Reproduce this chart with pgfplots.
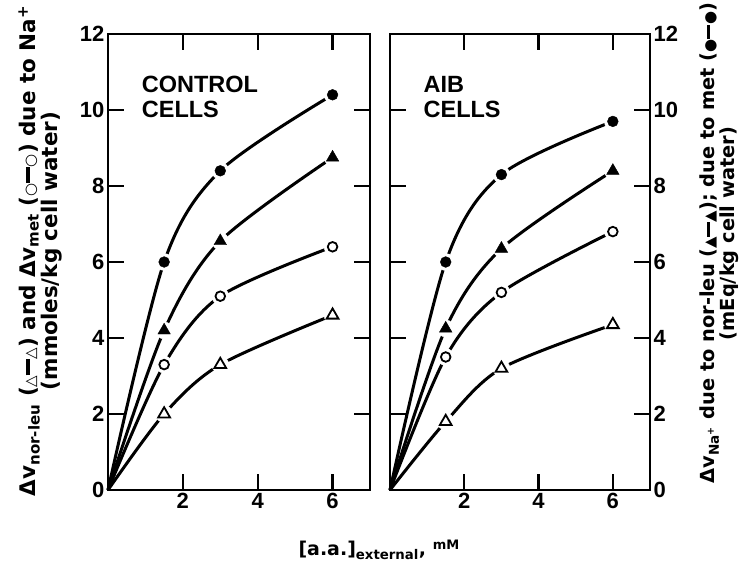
\documentclass[border=0pt]{standalone}
\usepackage{pgfplots}
\usepackage{pgfplotstable}
\pgfplotsset{compat=1.18}
\usepackage{fontspec}
\setmainfont{Liberation Sans}
\newfontfamily\dejavu{DejaVu Sans}
\newcommand\lnk{\rule[0.27em]{0.75em}{0.16em}}
\newcommand\sym[1]{{\fontsize{15}{15}\selectfont #1}}

\pgfplotstableread{
x fc ft oc ot
0 0 0 0 0
1.5 6.0 4.2 3.3 2.0
3 8.4 6.55 5.1 3.3
6 10.4 8.75 6.4 4.6
}\ctrl
\pgfplotstableread{
x fc ft oc ot
0 0 0 0 0
1.5 6.0 4.25 3.5 1.8
3 8.3 6.35 5.2 3.2
6 9.7 8.4 6.8 4.35
}\aib

\pgfplotsset{
  panel/.style={
    scale only axis, width=262pt, height=456pt,
    xmin=0, xmax=7, ymin=0, ymax=12,
    xtick={2,4,6}, ytick={0,2,...,12},
    axis line style={line width=2.5pt},
    major tick style={line width=2.2pt, black},
    major tick length=16pt,
    tick align=inside,
    tick pos=both,
    /pgf/number format/assume math mode=true,
    tick label style={font=\fontsize{22}{22}\selectfont\bfseries},
    clip=false,
  },
  curve/.style={black, line width=3pt, smooth, tension=0.5, no markers},
  halo/.style={only marks, white, mark=*, mark size=8.5pt, skip coords between index={0}{1}},
  fcm/.style={only marks, black, mark=*, mark size=5.4pt, skip coords between index={0}{1}},
  ocm/.style={only marks, black, mark=*, mark size=4.8pt, mark options={fill=white, line width=1.8pt}, skip coords between index={0}{1}},
  ftm/.style={only marks, black, mark=triangle*, mark size=7.2pt, skip coords between index={0}{1}},
  otm/.style={only marks, black, mark=triangle*, mark size=6.8pt, mark options={fill=white, line width=1.8pt}, skip coords between index={0}{1}},
}

\newcommand\series[1]{%
  \addplot[curve] table[x=x,y=fc]{#1};
  \addplot[curve] table[x=x,y=ft]{#1};
  \addplot[curve] table[x=x,y=oc]{#1};
  \addplot[curve] table[x=x,y=ot]{#1};
  \addplot[halo] table[x=x,y=fc]{#1};
  \addplot[halo] table[x=x,y=ft]{#1};
  \addplot[halo] table[x=x,y=oc]{#1};
  \addplot[halo] table[x=x,y=ot]{#1};
  \addplot[fcm] table[x=x,y=fc]{#1};
  \addplot[ftm] table[x=x,y=ft]{#1};
  \addplot[ocm] table[x=x,y=oc]{#1};
  \addplot[otm] table[x=x,y=ot]{#1};
}

\begin{document}
\begin{tikzpicture}
\useasboundingbox (-108pt,-81pt) rectangle (647pt,490pt);
\begin{axis}[panel, at={(0pt,0pt)}, anchor=south west,
  yticklabel pos=left,
  ylabel={Δv\textsubscript{nor-leu} (\sym{△}\lnk\sym{△}) and Δv\textsubscript{met} (\sym{○}\lnk\sym{○}) due to Na\textsuperscript{+}\\(mmoles/kg cell water)},
  ylabel style={at={(axis description cs:0,0.5)}, anchor=south, inner sep=0pt, yshift=46pt, xshift=11pt, align=center, font=\fontsize{21.5}{18.5}\selectfont\dejavu\bfseries},
  xlabel={[a.a.]\textsubscript{external}, \raisebox{0.3em}{\fontsize{13}{13}\selectfont mM}},
  xlabel style={at={(axis description cs:1.034,0)}, anchor=north, inner sep=0pt, yshift=-50pt, font=\fontsize{19}{19}\selectfont\dejavu\bfseries},
]
\series{\ctrl}
\node[anchor=north west, align=left, font=\fontsize{23.5}{25}\selectfont\bfseries, inner sep=0pt] at (axis cs:0.9,10.9) {CONTROL\\CELLS};
\end{axis}
\begin{axis}[panel, at={(282pt,0pt)}, anchor=south west, width=260pt,
  yticklabel pos=right,
  ylabel={Δv\textsubscript{Na\textsuperscript{+}} due to nor-leu (\sym{▲}\lnk\sym{▲}); due to met (\sym{●}\lnk\sym{●})\\\rule{19pt}{0pt}(mEq/kg cell water)},
  ylabel style={at={(axis description cs:1,0.5)}, anchor=north, inner sep=0pt, yshift=-50pt, xshift=19pt, align=center, font=\fontsize{19.4}{18.5}\selectfont\dejavu\bfseries},
]
\series{\aib}
\node[anchor=north west, align=left, font=\fontsize{23.5}{25}\selectfont\bfseries, inner sep=0pt] at (axis cs:0.9,10.9) {AIB\\CELLS};
\end{axis}
\end{tikzpicture}
\end{document}
